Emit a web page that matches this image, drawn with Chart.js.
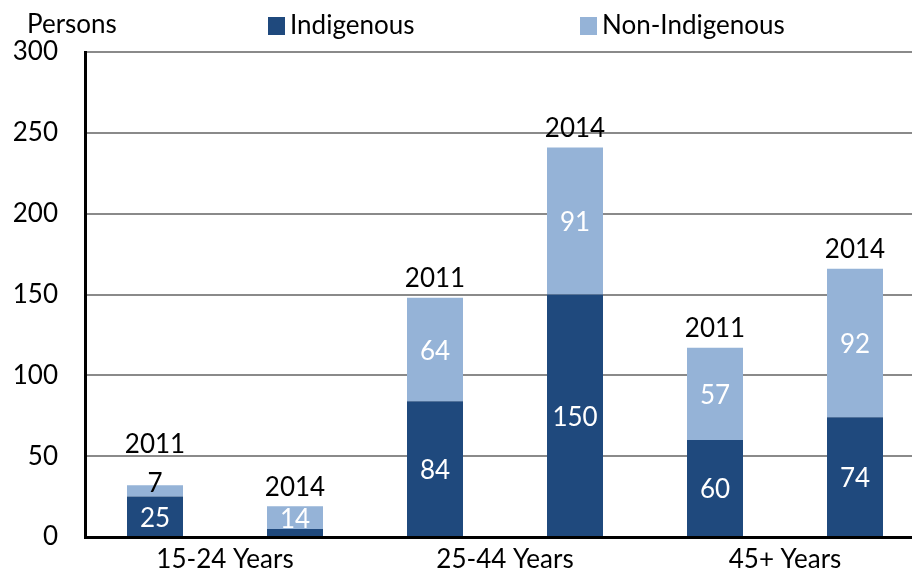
<!DOCTYPE html>
<html>
<head>
<meta charset="utf-8">
<script src="https://cdn.jsdelivr.net/npm/chart.js@4"></script>
<style>
  html, body { margin: 0; padding: 0; overflow: hidden; background: #fff; }
  #wrap { position: absolute; left: 0; top: 0; width: 925px; height: 572px; }
</style>
</head>
<body>
<div id="wrap"><canvas id="myChart" width="925" height="572"></canvas></div>
<script>
const years = ['2011', '2014', '2011', '2014', '2011', '2014'];
const groups = ['15-24 Years', '25-44 Years', '45+ Years'];
const indigenous = [25, 5, 84, 150, 60, 74];
const nonIndigenous = [7, 14, 64, 91, 57, 92];

const DARK = '#1F497D';
const LIGHT = '#95B3D7';
const FONT = 'Lato, "Open Sans", sans-serif';

Chart.defaults.font.family = FONT;
Chart.defaults.font.size = 26;
Chart.defaults.color = '#000';

// value labels, year labels, group labels and legend, drawn by hand
const labelsPlugin = {
    id: 'labels',
    afterDatasetsDraw(chart) {
        const ctx = chart.ctx;
        const x = chart.scales.x;
        ctx.save();
        ctx.font = '26px ' + FONT;
        ctx.textAlign = 'center';
        ctx.textBaseline = 'middle';

        const metaA = chart.getDatasetMeta(0);
        const metaB = chart.getDatasetMeta(1);
        years.forEach((yr, i) => {
            const a = metaA.data[i];
            const b = metaB.data[i];
            let topY = b.y;
            // indigenous segment
            if (a.base - a.y > 18) {
                ctx.fillStyle = '#fff';
                ctx.fillText(String(indigenous[i]), a.x, (a.y + a.base) / 2 + 2);
            }
            // non-indigenous segment
            if (b.base - b.y > 18) {
                ctx.fillStyle = '#fff';
                ctx.fillText(String(nonIndigenous[i]), b.x, (b.y + b.base) / 2 + 2);
            } else {
                ctx.fillStyle = '#000';
                ctx.fillText(String(nonIndigenous[i]), b.x, b.y - 2);
                topY = b.y - 22;
            }
            ctx.fillStyle = '#000';
            ctx.fillText(yr, b.x, topY - 19);
        });

        groups.forEach((g, k) => {
            const cx = (x.getPixelForValue(2 * k) + x.getPixelForValue(2 * k + 1)) / 2;
            ctx.fillText(g, cx, 560);
        });

        // title + legend
        ctx.textAlign = 'left';
        ctx.fillText('Persons', 27, 25);
        chart.data.datasets.forEach((ds, i) => {
            const lx = i === 0 ? 268 : 580;
            ctx.fillStyle = ds.backgroundColor;
            ctx.fillRect(lx, 17, 17, 18);
            ctx.fillStyle = '#000';
            ctx.fillText(ds.label, lx + 22, 26);
        });
        ctx.restore();
    }
};

const ctx = document.getElementById('myChart').getContext('2d');

const myChart = new Chart(ctx, {
    type: 'bar',
    data: {
        labels: years,
        datasets: [
            { label: 'Indigenous', data: indigenous, backgroundColor: DARK },
            { label: 'Non-Indigenous', data: nonIndigenous, backgroundColor: LIGHT },
        ],
    },
    options: {
        responsive: false,
        animation: false,
        layout: { padding: { top: 52, right: 0, left: 0, bottom: 0 } },
        datasets: {
            bar: { barPercentage: 0.4, categoryPercentage: 1.0 },
        },
        scales: {
            x: {
                stacked: true,
                grid: { display: false, drawTicks: false },
                border: { color: '#000', width: 3 },
                ticks: { display: false },
                afterFit: (scale) => { scale.height = 35; },
            },
            y: {
                stacked: true,
                min: 0,
                max: 300,
                ticks: { stepSize: 50, padding: 27, font: { size: 26 } },
                grid: {
                    color: (c) => c.tick.value === 0 ? 'rgba(0,0,0,0)' : '#8a8a8a',
                    lineWidth: 2,
                    drawTicks: false,
                },
                border: { color: '#000', width: 3 },
                afterFit: (scale) => {
                    scale.width = 85;
                    scale.paddingTop = 0;
                    scale.paddingBottom = 0;
                },
            },
        },
        plugins: {
            legend: { display: false },
            tooltip: { enabled: false },
        },
    },
    plugins: [labelsPlugin],
});
</script>
</body>
</html>
